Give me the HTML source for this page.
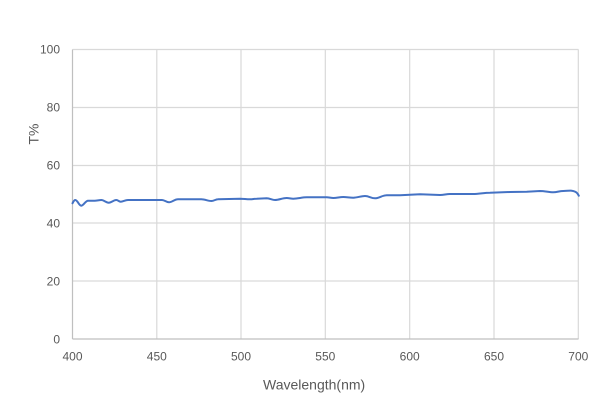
<!DOCTYPE html>
<html><head><meta charset="utf-8"><style>
html,body{margin:0;padding:0;background:#fff;}
svg{display:block;}
text{font-family:"Liberation Sans",sans-serif;fill:#595959;}
</style></head><body>
<svg width="603" height="404" viewBox="0 0 603 404" xmlns="http://www.w3.org/2000/svg">
<rect width="603" height="404" fill="#fff"/>
<g stroke="#d9d9d9" stroke-width="1.2" fill="none">
<line x1="72.5" y1="49.5" x2="578.5" y2="49.5"/>
<line x1="72.5" y1="107.5" x2="578.5" y2="107.5"/>
<line x1="72.5" y1="165.5" x2="578.5" y2="165.5"/>
<line x1="72.5" y1="223" x2="578.5" y2="223"/>
<line x1="72.5" y1="281" x2="578.5" y2="281"/>
<line x1="156.8" y1="49.5" x2="156.8" y2="339"/>
<line x1="241" y1="49.5" x2="241" y2="339"/>
<line x1="325.3" y1="49.5" x2="325.3" y2="339"/>
<line x1="409.7" y1="49.5" x2="409.7" y2="339"/>
<line x1="494" y1="49.5" x2="494" y2="339"/>
<line x1="578.3" y1="49.5" x2="578.3" y2="339"/>
</g>
<g stroke="#bfbfbf" stroke-width="1.2" fill="none">
<line x1="72.5" y1="49.5" x2="72.5" y2="339"/>
<line x1="72.5" y1="339" x2="578.5" y2="339"/>
</g>
<g font-size="12" text-anchor="end">
<text x="60" y="53.5">100</text>
<text x="60" y="111.5">80</text>
<text x="60" y="169.5">60</text>
<text x="60" y="227.5">40</text>
<text x="60" y="285.5">20</text>
<text x="60" y="343.5">0</text>
</g>
<g font-size="12" text-anchor="middle">
<text x="72.5" y="360.5">400</text>
<text x="156.8" y="360.5">450</text>
<text x="241" y="360.5">500</text>
<text x="325.3" y="360.5">550</text>
<text x="409.7" y="360.5">600</text>
<text x="494" y="360.5">650</text>
<text x="578.3" y="360.5">700</text>
</g>
<text x="263" y="389.5" font-size="14">Wavelength(nm)</text>
<text x="0" y="0" font-size="14" text-anchor="middle" transform="translate(38.5,134) rotate(-90)">T%</text>
<path fill="none" stroke="#4472c4" stroke-width="2" stroke-linejoin="round" stroke-linecap="round"
d="M72.5,203.3 C73.5,201.5 74,200 75.3,200 C77.5,200 79,205.7 81.3,205.7 C83.5,205.7 85.5,200.7 88,200.7 L94.7,200.7 C97,200.7 99,200 101.3,200 C104,200 106,202.7 108.7,202.7 C111.5,202.7 113.5,200 116.3,200 C118,200 119,201.7 120.7,201.7 C123,201.7 125,200 128,200 L154.7,200 L162,200 C164.5,200 166.5,202.3 169,202.3 C172,202.3 174.5,199.3 178,199.3 L201.3,199.3 C205,199.3 208,201 211.3,201 C214,201 215.5,199.3 218,199.3 L240,198.7 C244,198.7 246,199.3 250,199.3 C253,199.3 254,198.7 256.7,198.7 L266.7,198.3 C270,198.3 272,200 275,200 C279,200 282.5,198 286.7,198 C289,198 291,198.7 293.3,198.7 C298,198.7 302,197.3 306.7,197.3 L326.7,197.3 C329,197.3 331,198 333.3,198 C337,198 339.5,197 343.3,197 C347,197 349.5,197.7 353.3,197.7 C357.5,197.7 361,196 365,196 C369,196 371,198.3 375,198.3 C379,198.3 382,195.3 386.7,195.3 L400,195.3 L420,194.3 L440,195 C444,195 446,194 450,194 L473.3,194 C479,194 484,192.7 490,192.7 L510,192 L526.7,191.7 L540,191 C545,191 548.5,192.3 553.3,192.3 C557,192.3 559.5,191 563.3,191 C567,191 569,190.5 571.7,190.7 C574,191 575.5,191.5 576.7,192.7 C577.7,193.7 578.3,194.7 578.8,195.7"/>
</svg>
</body></html>
